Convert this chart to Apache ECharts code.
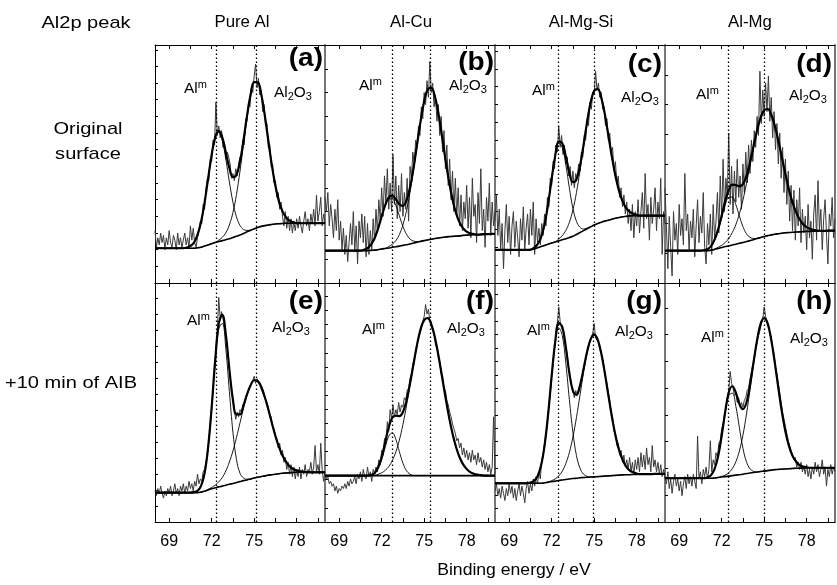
<!DOCTYPE html>
<html><head><meta charset="utf-8">
<script src="https://cdn.jsdelivr.net/npm/echarts@6/dist/echarts.min.js"></script>
<style>html,body{margin:0;padding:0;background:#fff}#chart{width:837px;height:585px}</style>
</head><body><div id="chart"></div>
<script>
// ---------------- DATA ----------------
// sampling of the spectra (binding energy, eV)
const FIT_X0 = 68, FIT_STEP = 0.25;   // fitted curves: 68 .. 80 every 0.25 eV (49 values)
const RAW_X0 = 68, RAW_STEP = 0.1;    // measured spectrum: 68 .. 80 every 0.1 eV (121 values)
const xTickValues = [69, 70.5, 72, 73.5, 75, 76.5, 78, 79.5];
const xLabelValues = [69, 72, 75, 78];
const columnTitles = ['Pure Al', 'Al-Cu', 'Al-Mg-Si', 'Al-Mg'];
const cornerTitle = 'Al2p peak';
const rowTitles = ['Original\nsurface', '+10 min of AIB'];
const panelLetters = ['(a)', '(b)', '(c)', '(d)', '(e)', '(f)', '(g)', '(h)'];
const xAxisTitle = 'Binding energy / eV';

// dotted reference lines (Al metal, Al2O3) per panel
const peakLinesA = [72.35, 75.18], peakLinesB = [72.78, 75.41], peakLinesC = [72.47, 74.99], peakLinesD = [72.45, 75.0];
const peakLinesE = [72.35, 75.18], peakLinesF = [72.78, 75.41], peakLinesG = [72.47, 74.96], peakLinesH = [72.43, 74.99];

// ---- (a) Pure Al, original ----
const rawA = [22,15,19,16,21,17,20,14,19,16,22,17,15,20,18,14,21,16,19,15,18,21,16,19,15,24,18,23,17,15,19,
22,26,25,33,31,40,44,43,52,51,60,58,76,62,66,61,64,57,59,52,55,53,50,44,46,43,48,45,50,53,
52,60,58,69,68,76,74,82,80,87,92,82,86,79,81,72,75,66,67,57,58,49,50,42,43,36,38,31,34,28,
24,30,23,28,22,27,21,26,22,27,
23,28,24,21,26,30,24,27,22,29,25,31,24,37,26,30,36,24,29,25];
const bgA = [14.6,14.6,14.6,14.6,14.6,14.6,14.6,14.6,14.6,14.6,14.6,14.6,
14.8,15.0,15.5,16.0,16.5,17.0,17.4,17.8,18.2,18.6,19.1,19.6,20.2,20.8,21.5,22.2,22.8,23.3,23.8,24.1,24.4,24.6,24.8,24.9,25.0,
25.1,25.1,25.1,25.1,25.1,25.1,25.1,25.1,25.1,25.1,25.1,25.1];
const almA = [0,0,0,0,0,0,0,0,0,0.3,1.0,2.4,5.4,10.6,18.3,27.9,37.4,44.2,45.9,42,33.8,23.9,14.9,8.2,4.0,1.7,0.6,
0,0,0,0,0,0,0,0,0,0,0,0,0,0,0,0,0,0,0,0,0,0];
const oxA = [0,0,0,0,0,0,0,0,0,0,0,0,0,0,0,0,0,0,
0.6,1.4,2.9,5.8,10.5,17.6,26.8,37.6,48.3,57,61.6,61,55.5,46.3,35.4,24.8,16,9.4,5.1,2.5,1.1,0.5,
0,0,0,0,0,0,0,0,0];

// ---- (b) Al-Cu, original ----
const rawB = [36,30,38,24,33,27,19,31,22,35,18,26,14,23,12,20,9,17,25,16,30,13,24,8,26,19,29,17,28,11,25,
12,22,14,27,18,31,21,35,26,40,28,45,33,48,31,42,30,54,33,45,27,41,30,46,28,38,31,44,26,49,
44,55,50,60,57,66,62,74,69,80,75,85,78,93,80,84,74,79,68,75,62,70,55,64,48,58,41,52,35,47,
30,44,28,40,24,37,22,34,27,
41,23,36,19,44,28,33,17,38,25,48,22,31,15,36,26,42,20,34,24,30];
const bgB = [13.6,13.6,13.6,13.6,13.6,13.6,13.6,13.6,13.6,13.6,13.6,13.6,13.6,
13.7,13.8,14.0,14.3,14.5,14.7,15.0,15.2,15.5,15.8,16.1,16.4,16.8,17.1,17.5,17.8,18.1,18.4,18.7,18.9,
19.1,19.3,19.5,19.6,19.7,19.8,20.0,20.1,20.2,20.3,20.3,20.4,20.5,20.5,20.6,20.6];
const almB = [0,0,0,0,0,0,0,0,0,0,0,0.4,1.0,2.4,5.0,8.9,13.7,18.2,20.7,20.4,17.4,12.7,8.0,4.4,2.1,0.8,0.3,
0,0,0,0,0,0,0,0,0,0,0,0,0,0,0,0,0,0,0,0,0,0];
const oxB = [0,0,0,0,0,0,0,0,0,0,0,0,0,0,0,0,0,0,
0.6,1.3,2.6,4.9,8.6,14.2,21.6,30.7,40.9,50.6,58.6,63.2,63.6,59.8,52.4,42.9,32.7,23.3,15.5,9.6,5.6,3.0,1.5,0.7,0.3,
0,0,0,0,0,0];

// ---- (c) Al-Mg-Si, original ----
const rawC = [26,37,20,31,14,25,6,22,33,17,28,12,24,30,15,26,19,11,27,18,32,14,23,29,16,31,20,34,12,27,17,
23,16,25,20,29,24,36,32,44,41,51,48,58,55,66,57,62,54,58,50,53,45,49,41,47,40,46,44,50,47,
55,53,62,60,69,66,76,73,80,79,89,81,84,78,80,73,74,66,69,60,63,54,57,47,51,42,45,36,40,32,
37,29,34,25,31,22,33,19,30,
24,35,21,30,38,23,46,27,33,18,36,25,31,40,22,34,27,44,12,30,25];
const bgC = [13.9,13.9,13.9,13.9,13.9,13.9,13.9,13.9,13.9,13.9,
14.0,14.3,14.8,15.3,15.8,16.3,16.8,17.2,17.7,18.2,18.6,19.1,19.6,20.4,21.2,22.0,22.8,23.6,24.4,25.0,25.5,26.0,26.4,26.8,27.2,27.5,27.8,28.0,28.2,
28.3,28.3,28.3,28.3,28.3,28.3,28.3,28.3,28.3,28.3];
const almC = [0,0,0,0,0,0,0,0,0,0,0,0.5,1.4,3.9,8.9,16.9,26.9,36.2,41,38.8,31,20.8,11.7,5.5,2.2,0.7,0.2,
0,0,0,0,0,0,0,0,0,0,0,0,0,0,0,0,0,0,0,0,0,0];
const oxC = [0,0,0,0,0,0,0,0,0,0,0,0,0,0,0,0,0,0,
0.8,1.7,3.5,6.4,11.1,17.6,25.9,35.3,44.6,52.2,56.4,56.5,52.4,45,35.7,26.3,17.9,11.3,6.6,3.6,1.8,0.8,0.3,
0,0,0,0,0,0,0,0];

// ---- (d) Al-Mg, original ----
const rawD = [40,24,6,28,15,3,30,18,25,12,33,20,27,16,46,22,29,14,26,19,31,11,24,35,17,28,21,38,15,8,25,
16,29,12,33,19,26,38,21,45,27,52,30,44,36,63,33,49,29,47,34,52,36,45,31,50,38,55,42,58,46,
60,51,64,57,70,62,89,67,81,70,84,72,87,68,78,61,72,56,67,50,63,44,57,38,52,33,47,26,41,22,
39,18,35,24,40,17,31,21,28,
14,33,19,26,10,29,37,18,43,22,31,14,27,35,20,8,29,24,36,19,27];
const bgD = [13.6,13.6,13.6,13.6,13.6,13.6,13.6,13.6,13.6,13.6,13.6,13.6,13.6,
13.8,14.1,14.5,14.9,15.3,15.6,16.0,16.3,16.7,17.0,17.4,17.8,18.2,18.7,19.1,19.5,19.9,20.2,20.5,20.7,
20.9,21.1,21.2,21.3,21.4,21.5,21.6,21.7,21.7,21.8,21.8,21.9,21.9,22.0,22.0,22.0];
const almD = [0,0,0,0,0,0,0,0,0,0,0,0.2,0.6,1.7,3.9,7.6,12.6,17.5,20.4,20.1,16.6,11.5,6.7,3.3,1.4,0.5,
0,0,0,0,0,0,0,0,0,0,0,0,0,0,0,0,0,0,0,0,0,0,0];
const oxD = [0,0,0,0,0,0,0,0,0,0,0,0,0,0,
0.2,0.5,0.9,1.7,3.1,5.2,8.2,12.4,17.8,24.3,31.5,38.8,45.4,50.4,53.1,53.2,50.5,45.6,39.1,31.9,24.6,18.1,12.6,8.4,5.3,3.1,1.8,1.0,0.5,0.2,
0,0,0,0,0];

// ---- (e) Pure Al, +10 min AIB ----
const rawE = [13,11,14,12,15,12,10,13,11,14,12,15,11,13,16,12,14,11,15,13,16,12,15,13,17,14,16,13,17,15,20,
16,18,17,21,22,25,29,34,41,47,56,64,72,80,94,85,88,85,82,78,73,67,61,56,51,47,43,46,44,47,
46,49,50,52,54,55,57,58,59,61,58,60,58,57,57,54,54,51,50,48,45,44,40,39,36,35,31,33,28,30,
25,27,22,25,20,24,19,23,18,
22,19,23,18,22,20,24,19,22,21,25,20,23,32,21,24,20,33,22,17,21];
const bgE = [12.3,12.3,12.3,12.3,12.3,12.3,12.3,12.3,12.3,12.3,12.3,12.3,12.3,
12.5,12.9,13.4,13.9,14.3,14.7,15.0,15.4,15.8,16.1,16.5,16.9,17.3,17.6,18.0,18.4,18.7,19.0,19.3,19.6,19.8,20.0,20.2,20.4,20.5,20.6,20.7,
20.8,20.8,20.8,20.8,20.8,20.8,20.8,20.8,20.8];
const almE = [0,0,0,0,0,0,0,0,0,0,0,0.2,0.7,2.6,7.5,17.6,33.6,52.3,66.1,68.1,57,38.8,21.5,9.7,3.5,1.1,0.3,
0,0,0,0,0,0,0,0,0,0,0,0,0,0,0,0,0,0,0,0,0,0];
const oxE = [0,0,0,0,0,0,0,0,0,0,0,0,0,0,0,
0.3,0.6,1.1,2.1,3.6,6.0,9.3,13.6,18.8,24.6,30.4,35.6,39.2,40.9,40.3,37.6,33,27.5,21.6,16,11.2,7.4,4.7,2.7,1.5,0.8,0.4,0.2,
0,0,0,0,0,0];

// ---- (f) Al-Cu, +10 min AIB ----
const rawF = [20,18,19,16,17,15,16,13,15,12,14,13,15,14,16,14,17,15,18,16,17,19,16,20,18,21,17,22,19,18,23,
19,21,17,22,20,23,21,26,24,30,28,35,33,42,38,47,43,49,44,47,45,50,46,49,48,52,51,55,56,60,
62,66,68,71,74,77,79,81,84,86,91,87,89,84,84,80,79,74,73,69,67,62,61,56,55,51,49,46,44,41,
39,37,34,35,31,33,28,31,27,
30,26,29,25,30,26,28,24,29,25,27,23,26,22,25,21,24,20,23,44,20];
const bgF = [19.4,19.4,19.4,19.4,19.4,19.4,19.4,19.4,19.4,19.4,19.4,19.4,19.4,19.4,19.4,19.4,19.4,19.4,19.4,19.4,19.4,19.4,19.4,19.4,19.4,
19.4,19.4,19.4,19.4,19.4,19.4,19.4,19.4,19.4,19.4,19.4,19.4,19.4,19.4,19.4,19.4,19.4,19.4,19.4,19.4,19.4,19.4,19.4,19.4];
const almF = [0,0,0,0,0,0,0,0,0,0,0,0,0,0.3,1.0,2.9,6.6,11.8,16.5,17.9,15.2,10,5.2,2.1,0.6,
0,0,0,0,0,0,0,0,0,0,0,0,0,0,0,0,0,0,0,0,0,0,0,0];
const oxF = [0,0,0,0,0,0,0,0,0,0,0,0,0,0,0,
0.6,1.2,2.2,3.8,6.3,9.9,14.9,21.4,29.2,37.9,46.7,54.9,61.3,65.1,65.9,63.4,58,50.5,41.8,33,24.7,17.6,12,7.7,4.7,2.8,1.5,0.8,0.4,0.2,
0,0,0,0];

// ---- (g) Al-Mg-Si, +10 min AIB ----
const rawG = [13,16,11,14,10,15,12,9,14,11,16,12,15,10,14,9,13,16,11,15,12,8,14,17,12,16,13,18,15,19,16,
21,18,26,28,33,37,41,49,53,61,66,73,78,83,90,84,81,80,76,73,70,64,61,57,55,52,55,53,56,57,
60,62,66,68,71,73,76,77,79,83,77,76,75,72,71,68,65,61,58,54,51,46,44,38,37,32,33,28,30,25,
28,23,26,22,27,21,25,20,26,
22,27,21,29,23,28,22,31,24,27,21,32,23,26,21,25,20,24,19,22,18];
const bgG = [16.2,16.2,16.2,16.2,16.2,16.2,16.2,16.2,16.2,16.2,16.2,16.2,16.2,16.2,
16.4,16.7,16.9,17.1,17.4,17.6,17.8,18.0,18.2,18.3,18.5,18.6,18.7,18.8,18.9,19.0,19.1,19.2,19.3,19.4,19.5,19.6,19.7,19.8,19.8,19.9,19.9,
20.0,20.0,20.0,20.0,20.1,20.1,20.1,20.1];
const almG = [0,0,0,0,0,0,0,0,0,0,0.3,1.0,2.9,7.4,15.7,28.4,43.8,57.4,63.9,60.4,48.6,33.2,19.3,9.5,4.0,1.4,0.4,
0,0,0,0,0,0,0,0,0,0,0,0,0,0,0,0,0,0,0,0,0,0];
const oxG = [0,0,0,0,0,0,0,0,0,0,0,0,0,0,0,0,
0.4,0.9,1.9,3.7,6.7,11.1,17.4,25.4,34.6,44,52.1,57.6,59.5,57.3,51.5,43.2,33.8,24.7,16.8,10.7,6.4,3.5,1.8,0.9,0.4,
0,0,0,0,0,0,0,0];

// ---- (h) Al-Mg, +10 min AIB ----
const rawH = [19,16,21,14,18,12,17,20,15,18,13,17,11,16,19,14,20,16,19,15,20,17,14,36,18,21,16,22,19,23,18,
22,34,21,26,24,29,27,33,34,39,41,45,48,52,55,63,58,56,53,54,50,52,48,50,48,51,52,55,56,60,
63,66,69,72,75,78,80,83,85,90,86,84,83,79,77,73,70,65,62,58,54,50,46,43,40,37,34,32,30,28,
26,27,23,25,22,25,21,23,20,
24,19,22,18,23,20,25,21,24,19,22,26,20,23,15,22,19,24,20,23,21];
const bgH = [18.3,18.3,18.3,18.3,18.3,18.3,18.3,18.3,18.3,18.3,18.3,18.3,18.3,18.3,
18.4,18.6,18.8,19.0,19.2,19.4,19.6,19.8,20.0,20.3,20.5,20.7,20.9,21.1,21.3,21.5,21.7,21.9,22.0,22.1,22.2,22.3,22.4,22.5,22.5,22.6,
22.7,22.7,22.7,22.7,22.7,22.7,22.7,22.7,22.7];
const almH = [0,0,0,0,0,0,0,0,0,0,0,0,0.4,1.3,3.8,8.9,17,26.5,33.6,34.5,28.9,19.7,10.9,4.9,1.8,0.5,
0,0,0,0,0,0,0,0,0,0,0,0,0,0,0,0,0,0,0,0,0,0,0];
const oxH = [0,0,0,0,0,0,0,0,0,0,0,0,0,0,0,0,
0.3,0.6,1.4,2.9,5.6,9.9,16.3,24.8,34.9,45.6,55.2,61.8,64,61.4,54.5,44.8,34.1,24,15.7,9.5,5.3,2.8,1.3,0.6,0.2,
0,0,0,0,0,0,0,0];

// ---------------- LAYOUT / STYLE ----------------
const FONT = '"Liberation Sans", Arial, Helvetica, sans-serif';
const panels = [
  {raw: rawA, bg: bgA, alm: almA, ox: oxA, lines: peakLinesA},
  {raw: rawB, bg: bgB, alm: almB, ox: oxB, lines: peakLinesB},
  {raw: rawC, bg: bgC, alm: almC, ox: oxC, lines: peakLinesC},
  {raw: rawD, bg: bgD, alm: almD, ox: oxD, lines: peakLinesD},
  {raw: rawE, bg: bgE, alm: almE, ox: oxE, lines: peakLinesE},
  {raw: rawF, bg: bgF, alm: almF, ox: oxF, lines: peakLinesF},
  {raw: rawG, bg: bgG, alm: almG, ox: oxG, lines: peakLinesG},
  {raw: rawH, bg: bgH, alm: almH, ox: oxH, lines: peakLinesH}
];
const yTickSpacing = [7, 10, 7.5, 12.5, 6.7, 5.9, 5.6, 11.2];
const almLabelPos = [[184,89],[359,86],[532,91],[696,95],[187,321],[362,330],[527,331],[701,338]];
const oxLabelPos = [[274,93],[449,86],[621,98],[789,96],[272,328],[447,329],[615,332],[790,339]];
const letterPos = [[323,47],[494,51],[662,53],[832,53],[323,290],[494,290],[662,290],[832,290]];

const grids = [], xAxes = [], yAxes = [], series = [], graphics = [];
const fitPairs = (arr) => arr.map((v, i) => [+(FIT_X0 + i * FIT_STEP).toFixed(2), v]);
const rawPairs = (arr) => arr.map((v, i) => [+(RAW_X0 + i * RAW_STEP).toFixed(2), v]);

panels.forEach((p, i) => {
  const row = i < 4 ? 0 : 1, col = i % 4;
  grids.push({left: 155 + col * 170, top: row ? 283 : 45, width: 170, height: row ? 239 : 238, containLabel: false});
  xAxes.push({
    gridIndex: i, type: 'value', min: 68, max: 80, position: 'bottom',
    axisLine: {show: true, onZero: false, lineStyle: {color: '#000', width: 1}},
    axisTick: {show: true, inside: true, length: 4, customValues: xTickValues, lineStyle: {color: '#000'}},
    axisLabel: {show: row === 1, customValues: xLabelValues, margin: 12, fontSize: 16, color: '#000', fontFamily: FONT},
    splitLine: {show: false}
  });
  xAxes.push({
    gridIndex: i, type: 'value', min: 68, max: 80, position: 'top',
    axisLine: {show: true, onZero: false, lineStyle: {color: '#000', width: 1}},
    axisTick: {show: true, inside: true, length: 4, customValues: xTickValues, lineStyle: {color: '#000'}},
    axisLabel: {show: false}, splitLine: {show: false}
  });
  yAxes.push({
    gridIndex: i, type: 'value', min: 0, max: 100, interval: yTickSpacing[i], position: 'left',
    axisLine: {show: true, onZero: false, lineStyle: {color: col === 0 ? '#000' : '#777', width: col === 0 ? 1 : 2}},
    axisTick: {show: true, inside: true, length: 3, lineStyle: {color: '#000'}},
    axisLabel: {show: false}, splitLine: {show: false}
  });
  yAxes.push({
    gridIndex: i, type: 'value', min: 0, max: 100, position: 'right', show: col === 3,
    axisLine: {show: true, onZero: false, lineStyle: {color: '#777', width: 2}},
    axisTick: {show: false}, axisLabel: {show: false}, splitLine: {show: false}
  });
  const xi = 2 * i, yi = 2 * i;
  const comp1 = p.bg.map((b, k) => b + p.alm[k]);
  const comp2 = p.bg.map((b, k) => b + p.ox[k]);
  const env = p.bg.map((b, k) => b + p.alm[k] + p.ox[k]);
  series.push({
    type: 'line', xAxisIndex: xi, yAxisIndex: yi, data: rawPairs(p.raw), showSymbol: false, symbol: 'none',
    lineStyle: {color: '#3a3a3a', width: 1}, z: 2, silent: true,
    markLine: {silent: true, symbol: ['none', 'none'], label: {show: false},
      lineStyle: {type: [1.5, 2.5], color: '#000', width: 1.3},
      data: p.lines.map(v => ({xAxis: v}))}
  });
  [comp1, comp2].forEach(c => series.push({
    type: 'line', xAxisIndex: xi, yAxisIndex: yi, data: fitPairs(c), showSymbol: false, symbol: 'none',
    smooth: 0.4, lineStyle: {color: '#000', width: 0.9}, z: 3, silent: true
  }));
  series.push({type: 'line', xAxisIndex: xi, yAxisIndex: yi, data: fitPairs(p.bg), showSymbol: false, symbol: 'none',
    smooth: 0.4, lineStyle: {color: '#000', width: 1.6}, z: 4, silent: true});
  series.push({type: 'line', xAxisIndex: xi, yAxisIndex: yi, data: fitPairs(env), showSymbol: false, symbol: 'none',
    smooth: 0.4, lineStyle: {color: '#000', width: 2.2}, z: 5, silent: true});

  // annotations
  graphics.push({type: 'text', x: almLabelPos[i][0], y: almLabelPos[i][1], scaleX: 1.1, silent: true, z: 10,
    style: {text: '{n|Al}{p|m}', textAlign: 'left', textVerticalAlign: 'middle', fill: '#000',
      rich: {n: {fontSize: 14, fontFamily: FONT, fill: '#000'}, p: {fontSize: 10, fontFamily: FONT, fill: '#000', padding: [0, 0, 8, 0]}}}});
  graphics.push({type: 'text', x: oxLabelPos[i][0], y: oxLabelPos[i][1], scaleX: 1.1, silent: true, z: 10,
    style: {text: '{n|Al}{s|2}{n|O}{s|3}', textAlign: 'left', textVerticalAlign: 'middle', fill: '#000',
      rich: {n: {fontSize: 14, fontFamily: FONT, fill: '#000'}, s: {fontSize: 10, fontFamily: FONT, fill: '#000', padding: [8, 0, 0, 0]}}}});
  graphics.push({type: 'text', x: letterPos[i][0], y: letterPos[i][1], scaleX: 1.12, silent: true, z: 10,
    style: {text: panelLetters[i], textAlign: 'right', textVerticalAlign: 'top', fill: '#000',
      fontSize: 25, fontWeight: 'bold', fontFamily: FONT}});
});

const headerX = [242, 411, 581, 750];
columnTitles.forEach((t, c) => graphics.push({type: 'text', x: headerX[c], y: 23, scaleX: 1.05, silent: true,
  style: {text: t, textAlign: 'center', textVerticalAlign: 'middle', fill: '#000', fontSize: 16, fontFamily: FONT}}));
graphics.push({type: 'text', x: 86, y: 23, scaleX: 1.18, silent: true,
  style: {text: cornerTitle, textAlign: 'center', textVerticalAlign: 'middle', fill: '#000', fontSize: 17, fontFamily: FONT}});
graphics.push({type: 'text', x: 88, y: 142, scaleX: 1.18, silent: true,
  style: {text: rowTitles[0], textAlign: 'center', textVerticalAlign: 'middle', fill: '#000', fontSize: 17, lineHeight: 25, fontFamily: FONT}});
graphics.push({type: 'text', x: 71, y: 383, scaleX: 1.18, silent: true,
  style: {text: rowTitles[1], textAlign: 'center', textVerticalAlign: 'middle', fill: '#000', fontSize: 17, fontFamily: FONT}});
graphics.push({type: 'text', x: 514, y: 571, scaleX: 1.1, silent: true,
  style: {text: xAxisTitle, textAlign: 'center', textVerticalAlign: 'middle', fill: '#000', fontSize: 16, fontFamily: FONT}});

const chart = echarts.init(document.getElementById('chart'), null, {renderer: 'canvas'});
chart.setOption({
  animation: false, backgroundColor: '#fff',
  grid: grids, xAxis: xAxes, yAxis: yAxes, series: series, graphic: graphics
});
</script></body></html>
